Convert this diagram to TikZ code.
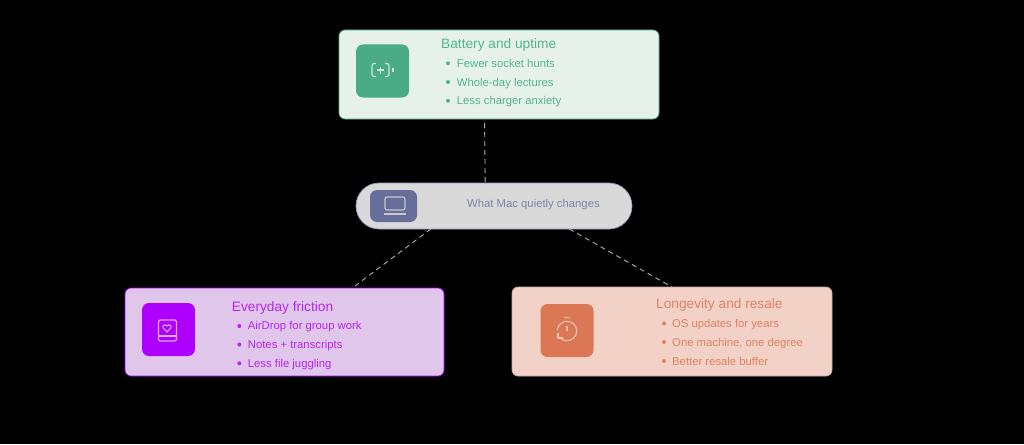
\documentclass[tikz,border=0pt]{standalone}
\usepackage{fontspec}
\setmainfont{Liberation Sans}
\definecolor{greenfill}{HTML}{E6F2E9}
\definecolor{greenmain}{HTML}{4AAB87}
\definecolor{greentext}{HTML}{52B590}
\definecolor{purplefill}{HTML}{E1C6EC}
\definecolor{purplemain}{HTML}{AE00FF}
\definecolor{purpletext}{HTML}{B526F2}
\definecolor{orangefill}{HTML}{F2D2C6}
\definecolor{orangemain}{HTML}{DB7755}
\definecolor{orangetext}{HTML}{E08263}
\definecolor{macfill}{HTML}{D9D9D9}
\definecolor{macmain}{HTML}{666E99}
\definecolor{mactext}{HTML}{7C84A8}
\definecolor{edgegray}{HTML}{B0B0B0}
\tikzset{
  card/.style={draw, line width=.7pt, rounded corners=6pt, minimum width=320pt, minimum height=89pt, inner sep=0, outer sep=0},
  iconbox/.style={rounded corners=7pt, minimum width=53pt, minimum height=53pt, inner sep=0, outer sep=0},
  title/.style={anchor=base west, inner sep=0, font=\fontsize{13.7}{15}\selectfont},
  item/.style={anchor=base west, inner sep=0, font=\fontsize{11.3}{13}\selectfont},
  dotmark/.style={circle, fill, minimum size=4pt, inner sep=0},
  link/.style={edgegray, line width=.9pt, dash pattern=on 5pt off 4pt},
  glyph/.style={line width=1.1pt}
}
\begin{document}
\begin{tikzpicture}[x=1pt,y=-1pt]
\fill [black] (0,0) rectangle (1024,444);
% boxes
\node [card, draw=greenmain, fill=greenfill] (battery) at (499,74.5) {};
\node [card, draw=macmain!70, fill=macfill, minimum width=276pt, minimum height=46pt, rounded corners=23pt] (mac) at (494,206) {};
\node [card, draw=purplemain, fill=purplefill, minimum width=319pt, minimum height=88pt] (friction) at (284.5,332) {};
\node [card, draw=orangefill!80!black, fill=orangefill, minimum height=89pt] (resale) at (672,331.5) {};
% links
\draw [link, dash phase=5pt] (battery.252) -- (mac.111);
\draw [link] (mac.200) -- (friction.33.5);
\draw [link] (mac.-17.5) -- (resale.north);
% icon tiles
\node [iconbox, fill=greenmain] (batteryicon) at (382.5,71) {};
\node [iconbox, fill=macmain, minimum width=47pt, minimum height=32pt] (macicon) at (393.5,206) {};
\node [iconbox, fill=purplemain] (frictionicon) at (168.5,329.5) {};
\node [iconbox, fill=orangemain] (resaleicon) at (567,330.5) {};
% battery glyph
\draw [glyph, greenfill!85!greenmain, rounded corners=2pt] (376,63.5) -- (372,63.5) -- (372,76.5) -- (376,76.5);
\draw [glyph, greenfill!85!greenmain, rounded corners=2pt] (385,63.5) -- (389,63.5) -- (389,76.5) -- (385,76.5);
\draw [glyph, greenfill!85!greenmain] (377,70) -- (384,70);
\draw [glyph, greenfill!85!greenmain] (380.5,66.5) -- (380.5,73.5);
\draw [glyph, greenfill!85!greenmain] (393,68) -- (393,72);
% laptop glyph
\draw [glyph, macfill!85!macmain, rounded corners=2pt] (385,197) rectangle (405,210);
\draw [glyph, macfill!85!macmain] (384,214) -- (406,214);
% book glyph
\draw [glyph, purplefill!85!purplemain, rounded corners=1.5pt] (158.5,320) rectangle (176.5,341);
\draw [glyph, purplefill!85!purplemain] (158.5,336) -- (176.5,336);
\draw [glyph, purplefill!85!purplemain, line join=round] (167,332) -- (163.2,328) .. controls (161.8,325.5) and (165.5,323.5) .. (167,326) .. controls (168.5,323.5) and (172.2,325.5) .. (170.8,328) -- cycle;
% timer glyph
\draw [glyph, orangefill!85!orangemain] (563.5,317.5) -- (569.5,317.5);
\draw [glyph, orangefill!85!orangemain] (567,326) -- (567,331);
\draw [glyph, orangefill!85!orangemain] (567,321.3) arc (90:-135:9.7pt);
\draw [glyph, orangefill!85!orangemain] (557.3,330) arc (174:90:9.7pt);
\draw [glyph, orangefill!85!orangemain, line join=round] (558,333) -- (558,338) -- (563,338);
% battery text
\node [title, greentext] (batterytitle) at (441,48.9) {Battery and uptime};
\node [dotmark, greentext] (batterydot1) at (448,63.3) {};
\node [dotmark, greentext] (batterydot2) at (448,82) {};
\node [dotmark, greentext] (batterydot3) at (448,100.8) {};
\node [item, greentext] (batteryitem1) at (456.7,67.3) {Fewer socket hunts};
\node [item, greentext] (batteryitem2) at (456.7,86) {Whole-day lectures};
\node [item, greentext] (batteryitem3) at (456.7,104.5) {Less charger anxiety};
% mac text
\node [item, mactext] (mactitle) at (467,207) {What Mac quietly changes};
% friction text
\node [title, purpletext] (frictiontitle) at (231.7,311.2) {Everyday friction};
\node [dotmark, purpletext] (frictiondot1) at (239.3,326) {};
\node [dotmark, purpletext] (frictiondot2) at (239.3,344.5) {};
\node [dotmark, purpletext] (frictiondot3) at (239.3,363.3) {};
\node [item, purpletext] (frictionitem1) at (247.7,329.3) {AirDrop for group work};
\node [item, purpletext] (frictionitem2) at (247.7,348) {Notes + transcripts};
\node [item, purpletext] (frictionitem3) at (247.7,367) {Less file juggling};
% resale text
\node [title, orangetext] (resaletitle) at (656,308.9) {Longevity and resale};
\node [dotmark, orangetext] (resaledot1) at (664,323.5) {};
\node [dotmark, orangetext] (resaledot2) at (664,342) {};
\node [dotmark, orangetext] (resaledot3) at (664,361) {};
\node [item, orangetext] (resaleitem1) at (672,327.7) {OS updates for years};
\node [item, orangetext] (resaleitem2) at (672,346) {One machine, one degree};
\node [item, orangetext] (resaleitem3) at (672,365) {Better resale buffer};
\end{tikzpicture}
\end{document}
